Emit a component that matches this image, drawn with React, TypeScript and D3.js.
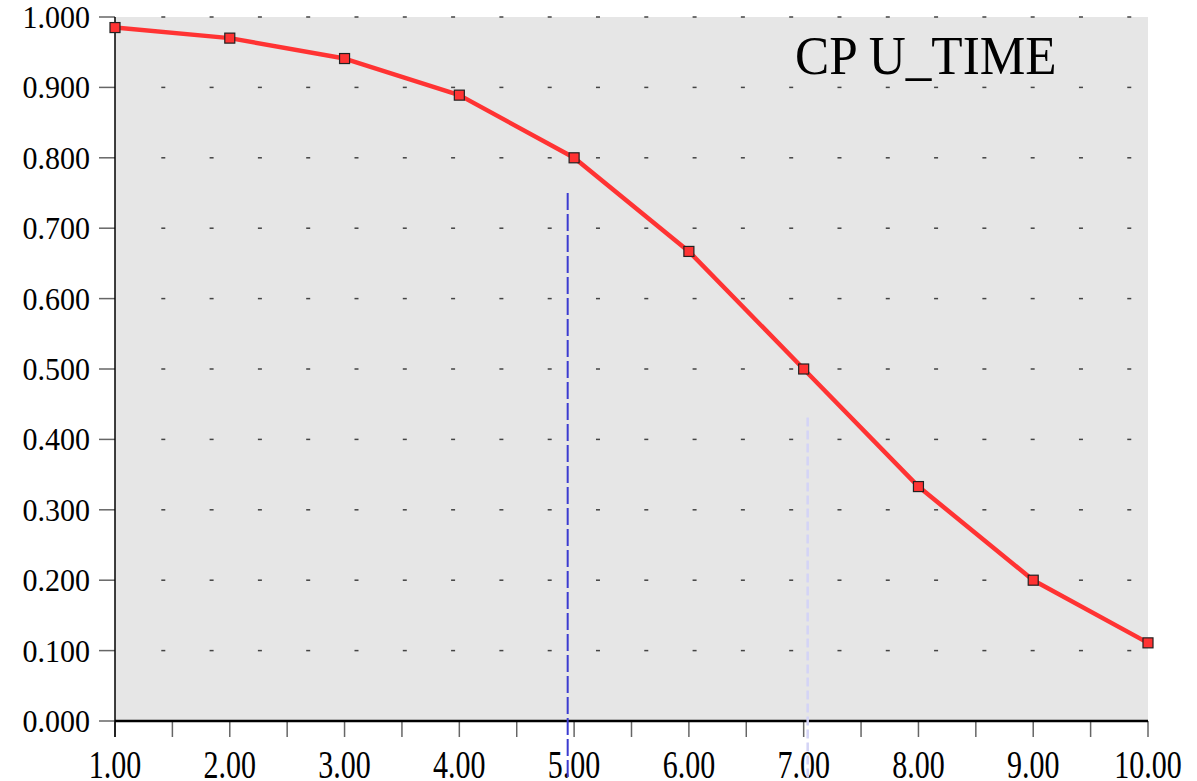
import React, { useRef, useEffect } from "react";
import * as d3 from "d3";

// values
const xValues = [1, 2, 3, 4, 5, 6, 7, 8, 9, 10];
const cpuTime = [0.985, 0.97, 0.941, 0.889, 0.8, 0.667, 0.5, 0.333, 0.2, 0.111];
const yTicks = [0, 0.1, 0.2, 0.3, 0.4, 0.5, 0.6, 0.7, 0.8, 0.9, 1.0];
const xTicks = [1, 2, 3, 4, 5, 6, 7, 8, 9, 10];
const xMinorTicks = [1, 1.5, 2, 2.5, 3, 3.5, 4, 4.5, 5, 5.5, 6, 6.5, 7, 7.5, 8, 8.5, 9, 9.5, 10];
// grid dots columns (in x units)
const gridCols = d3.range(1, 22).map((i) => 1 + i * 0.4208);
// vertical cursor markers: x position, top value
const cursors = [
  { x: 4.944, top: 0.75, color: "#3b3bd0", dash: "17,4", width: 2 },
  { x: 7.035, top: 0.431, color: "#d4d4f6", dash: "9,4", width: 2.5 },
];
const title = "CP U_TIME";

const W = 1197;
const H = 781;
const margin = { top: 17, right: 49, bottom: 60, left: 115 };

const App = () => {
  const ref = useRef<SVGSVGElement | null>(null);

  useEffect(() => {
    if (!ref.current) return;
    const svg = d3.select(ref.current);
    svg.selectAll("*").remove();

    const x = d3
      .scaleLinear()
      .domain([1, 10])
      .range([margin.left, W - margin.right]);
    const y = d3
      .scaleLinear()
      .domain([0, 1])
      .range([H - margin.bottom, margin.top]);

    const font = "'Liberation Serif', 'Times New Roman', serif";

    svg
      .append("rect")
      .attr("x", x(1))
      .attr("y", y(1))
      .attr("width", x(10) - x(1))
      .attr("height", y(0) - y(1))
      .attr("fill", "#e6e6e6");

    // dotted grid
    const grid = svg.append("g");
    yTicks
      .filter((t) => t > 0)
      .forEach((t) => {
        grid
          .selectAll(null)
          .data(gridCols.filter((c) => c < 10))
          .enter()
          .append("rect")
          .attr("x", (d) => x(d) - 2)
          .attr("y", y(t) - 0.75)
          .attr("width", 4)
          .attr("height", 1.5)
          .attr("fill", "#444");
      });

    // y ticks + labels
    const yAxis = svg.append("g");
    yAxis
      .selectAll("line")
      .data(yTicks)
      .enter()
      .append("line")
      .attr("x1", margin.left - 16)
      .attr("x2", margin.left)
      .attr("y1", (d) => y(d))
      .attr("y2", (d) => y(d))
      .attr("stroke", "#666")
      .attr("stroke-width", 1.5);
    yAxis
      .selectAll("text")
      .data(yTicks)
      .enter()
      .append("text")
      .attr("transform", (d) => `translate(90,${y(d) + 11}) scale(1,1.08)`)
      .attr("text-anchor", "end")
      .style("font-family", font)
      .style("font-size", "30px")
      .attr("fill", "#000")
      .text((d) => d3.format(".3f")(d));

    // x ticks + labels
    const xAxis = svg.append("g");
    xAxis
      .selectAll("line")
      .data(xMinorTicks)
      .enter()
      .append("line")
      .attr("x1", (d) => x(d))
      .attr("x2", (d) => x(d))
      .attr("y1", y(0))
      .attr("y2", y(0) + 16)
      .attr("stroke", "#666")
      .attr("stroke-width", 1.5);
    xAxis
      .selectAll("text")
      .data(xTicks)
      .enter()
      .append("text")
      .attr("transform", (d) => `translate(${x(d)},778) scale(1,1.3)`)
      .attr("text-anchor", "middle")
      .style("font-family", font)
      .style("font-size", "30px")
      .attr("fill", "#000")
      .text((d) => d3.format(".2f")(d));

    // axis lines
    svg
      .append("line")
      .attr("x1", x(1))
      .attr("x2", x(1))
      .attr("y1", y(1))
      .attr("y2", y(0) + 16)
      .attr("stroke", "#000")
      .attr("stroke-width", 1.5);
    svg
      .append("line")
      .attr("x1", x(1))
      .attr("x2", x(10))
      .attr("y1", y(0))
      .attr("y2", y(0))
      .attr("stroke", "#000")
      .attr("stroke-width", 2.5);

    // cursors
    svg
      .selectAll(".cursor")
      .data(cursors)
      .enter()
      .append("line")
      .attr("class", "cursor")
      .attr("x1", (d) => x(d.x))
      .attr("x2", (d) => x(d.x))
      .attr("y1", (d) => y(d.top))
      .attr("y2", H)
      .attr("stroke", (d) => d.color)
      .attr("stroke-width", (d) => d.width)
      .attr("stroke-dasharray", (d) => d.dash);

    // series
    const pts = xValues.map((v, i) => [v, cpuTime[i]] as [number, number]);
    const line = d3
      .line<[number, number]>()
      .x((d) => x(d[0]))
      .y((d) => y(d[1]));
    svg
      .append("path")
      .attr("d", line(pts))
      .attr("fill", "none")
      .attr("stroke", "#ff3333")
      .attr("stroke-width", 4.5)
      .attr("stroke-linejoin", "round");
    svg
      .selectAll(".pt")
      .data(pts)
      .enter()
      .append("rect")
      .attr("class", "pt")
      .attr("x", (d) => x(d[0]) - 5)
      .attr("y", (d) => y(d[1]) - 5)
      .attr("width", 10)
      .attr("height", 10)
      .attr("fill", "#ff3333")
      .attr("stroke", "#222")
      .attr("stroke-width", 1.2);

    svg
      .append("text")
      .attr("transform", "translate(795,74) scale(0.95,1)")
      .style("font-family", font)
      .style("font-size", "54px")
      .attr("fill", "#000")
      .text(title);
  }, []);

  return (
    <svg
      ref={ref}
      width={W}
      height={H}
      style={{ position: "absolute", left: 0, top: 0, background: "#fff" }}
    />
  );
};

export default App;
